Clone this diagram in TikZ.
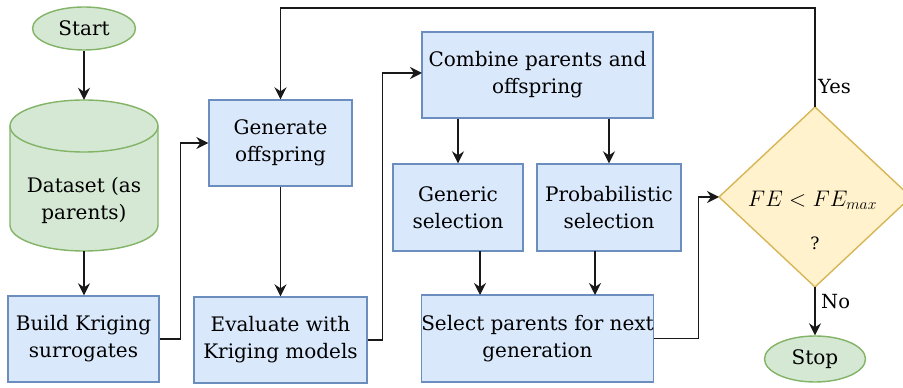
\documentclass[tikz,border=0pt]{standalone}
\usepackage{graphicx}
\usepackage{fontspec}
\setmainfont{DejaVu Serif}
\usetikzlibrary{arrows.meta,calc,shapes.geometric}
\definecolor{bfill}{HTML}{DAE8FC}
\definecolor{bdraw}{HTML}{6C8EBF}
\definecolor{gfill}{HTML}{D5E8D4}
\definecolor{gdraw}{HTML}{82B366}
\definecolor{yfill}{HTML}{FFF2CC}
\definecolor{ydraw}{HTML}{D6B656}
\begin{document}
\begin{tikzpicture}[x=1pt,y=1pt,
  every node/.style={font=\fontsize{20}{27}\selectfont, inner sep=0pt},
  bluebox/.style={draw=bdraw, fill=bfill, line width=1.4pt, align=center},
  greenell/.style={draw=gdraw, fill=gfill, line width=1.4pt, ellipse},
  arr/.style={line width=1.5pt, draw=black!90, -{Stealth[length=12pt,width=12pt,inset=4pt]}},
  lbl/.style={font=\fontsize{19.5}{24}\selectfont}
]
\path[use as bounding box, clip] (0,0) rectangle (903,388);

% Start
\node[greenell, minimum width=103pt, minimum height=43pt] (start) at (84,359.5) {Start};

% Cylinder (dataset)
\draw[draw=gdraw, fill=gfill, line width=1.4pt]
  (10,262) -- (10,163) arc[start angle=180, end angle=360, x radius=74pt, y radius=26pt]
  -- (158,262) arc[start angle=0, end angle=180, x radius=74pt, y radius=26pt] -- cycle;
\draw[draw=gdraw, line width=1.4pt]
  (10,262) arc[start angle=180, end angle=360, x radius=74pt, y radius=26pt];
\node[minimum width=148pt, minimum height=151pt] (data) at (84,212.5) {};
\node[align=center] (datatext) at (84,188) {Dataset (as\\parents)};

% Boxes
\node[bluebox, minimum width=151pt, minimum height=86pt] (build) at (83.5,49) {Build Kriging\\surrogates};
\node[bluebox, minimum width=143pt, minimum height=86pt] (gen) at (280.5,245) {Generate\\offspring};
\node[bluebox, minimum width=173pt, minimum height=86pt] (eval) at (280.5,48) {Evaluate with\\Kriging models};
\node[bluebox, minimum width=231pt, minimum height=86pt] (comb) at (537.5,313) {Combine parents and\\offspring};
\node[bluebox, minimum width=130pt, minimum height=87pt] (generic) at (458,180.5) {Generic\\selection};
\node[bluebox, minimum width=144pt, minimum height=87pt] (prob) at (609,180.5) {Probabilistic\\selection};
\node[bluebox, minimum width=231pt, minimum height=87pt] (sel) at (537.5,49.5) {Select parents for next\\generation};

% Diamond
\coordinate (dl) at (719,191);
\coordinate (dt) at (815,281);
\coordinate (dr) at (911,191);
\coordinate (db) at (815,101);
\draw[draw=ydraw, fill=yfill, line width=1.4pt] (dl) -- (dt) -- (dr) -- (db) -- cycle;
\node (cond) at (812.5,188) {\resizebox{129pt}{!}{$FE < FE_{max}$}};
\node (q) at (815,145) {\fontsize{17}{20}\selectfont ?};

% Stop
\node[greenell, minimum width=101pt, minimum height=46pt] (stop) at (815,29) {Stop};

% connector helper coordinates
\coordinate (g1) at (480,137);
\coordinate (g2) at (480,93);
\coordinate (p1) at (595,137);
\coordinate (p2) at (595,93);
\coordinate (cw) at (422,315);

% Connectors
\draw[arr] (start.south) -- (data.north);
\draw[arr] (data.south) -- (data.south |- build.north);
\draw[arr] (build.east) -- ++(21,0) |- (gen.west);
\draw[arr] (gen.south) -- (eval.north);
\draw[arr] (eval.east) -- ++(15,0) |- (cw);
\draw[arr] (generic.north |- comb.south) -- (generic.north);
\draw[arr] (prob.north |- comb.south) -- (prob.north);
\draw[arr] (g1) -- (g2);
\draw[arr] (p1) -- (p2);
\draw[arr] (sel.east) -- ++(44,0) |- (dl);
\draw[arr] (dt) -- (815,380) -| (gen.north);
\draw[arr] (db) -- (db |- stop.north);
\node[lbl, anchor=west] (yes) at (818,301) {Yes};
\node[lbl, anchor=west] (no) at (821,86) {No};
\end{tikzpicture}
\end{document}
